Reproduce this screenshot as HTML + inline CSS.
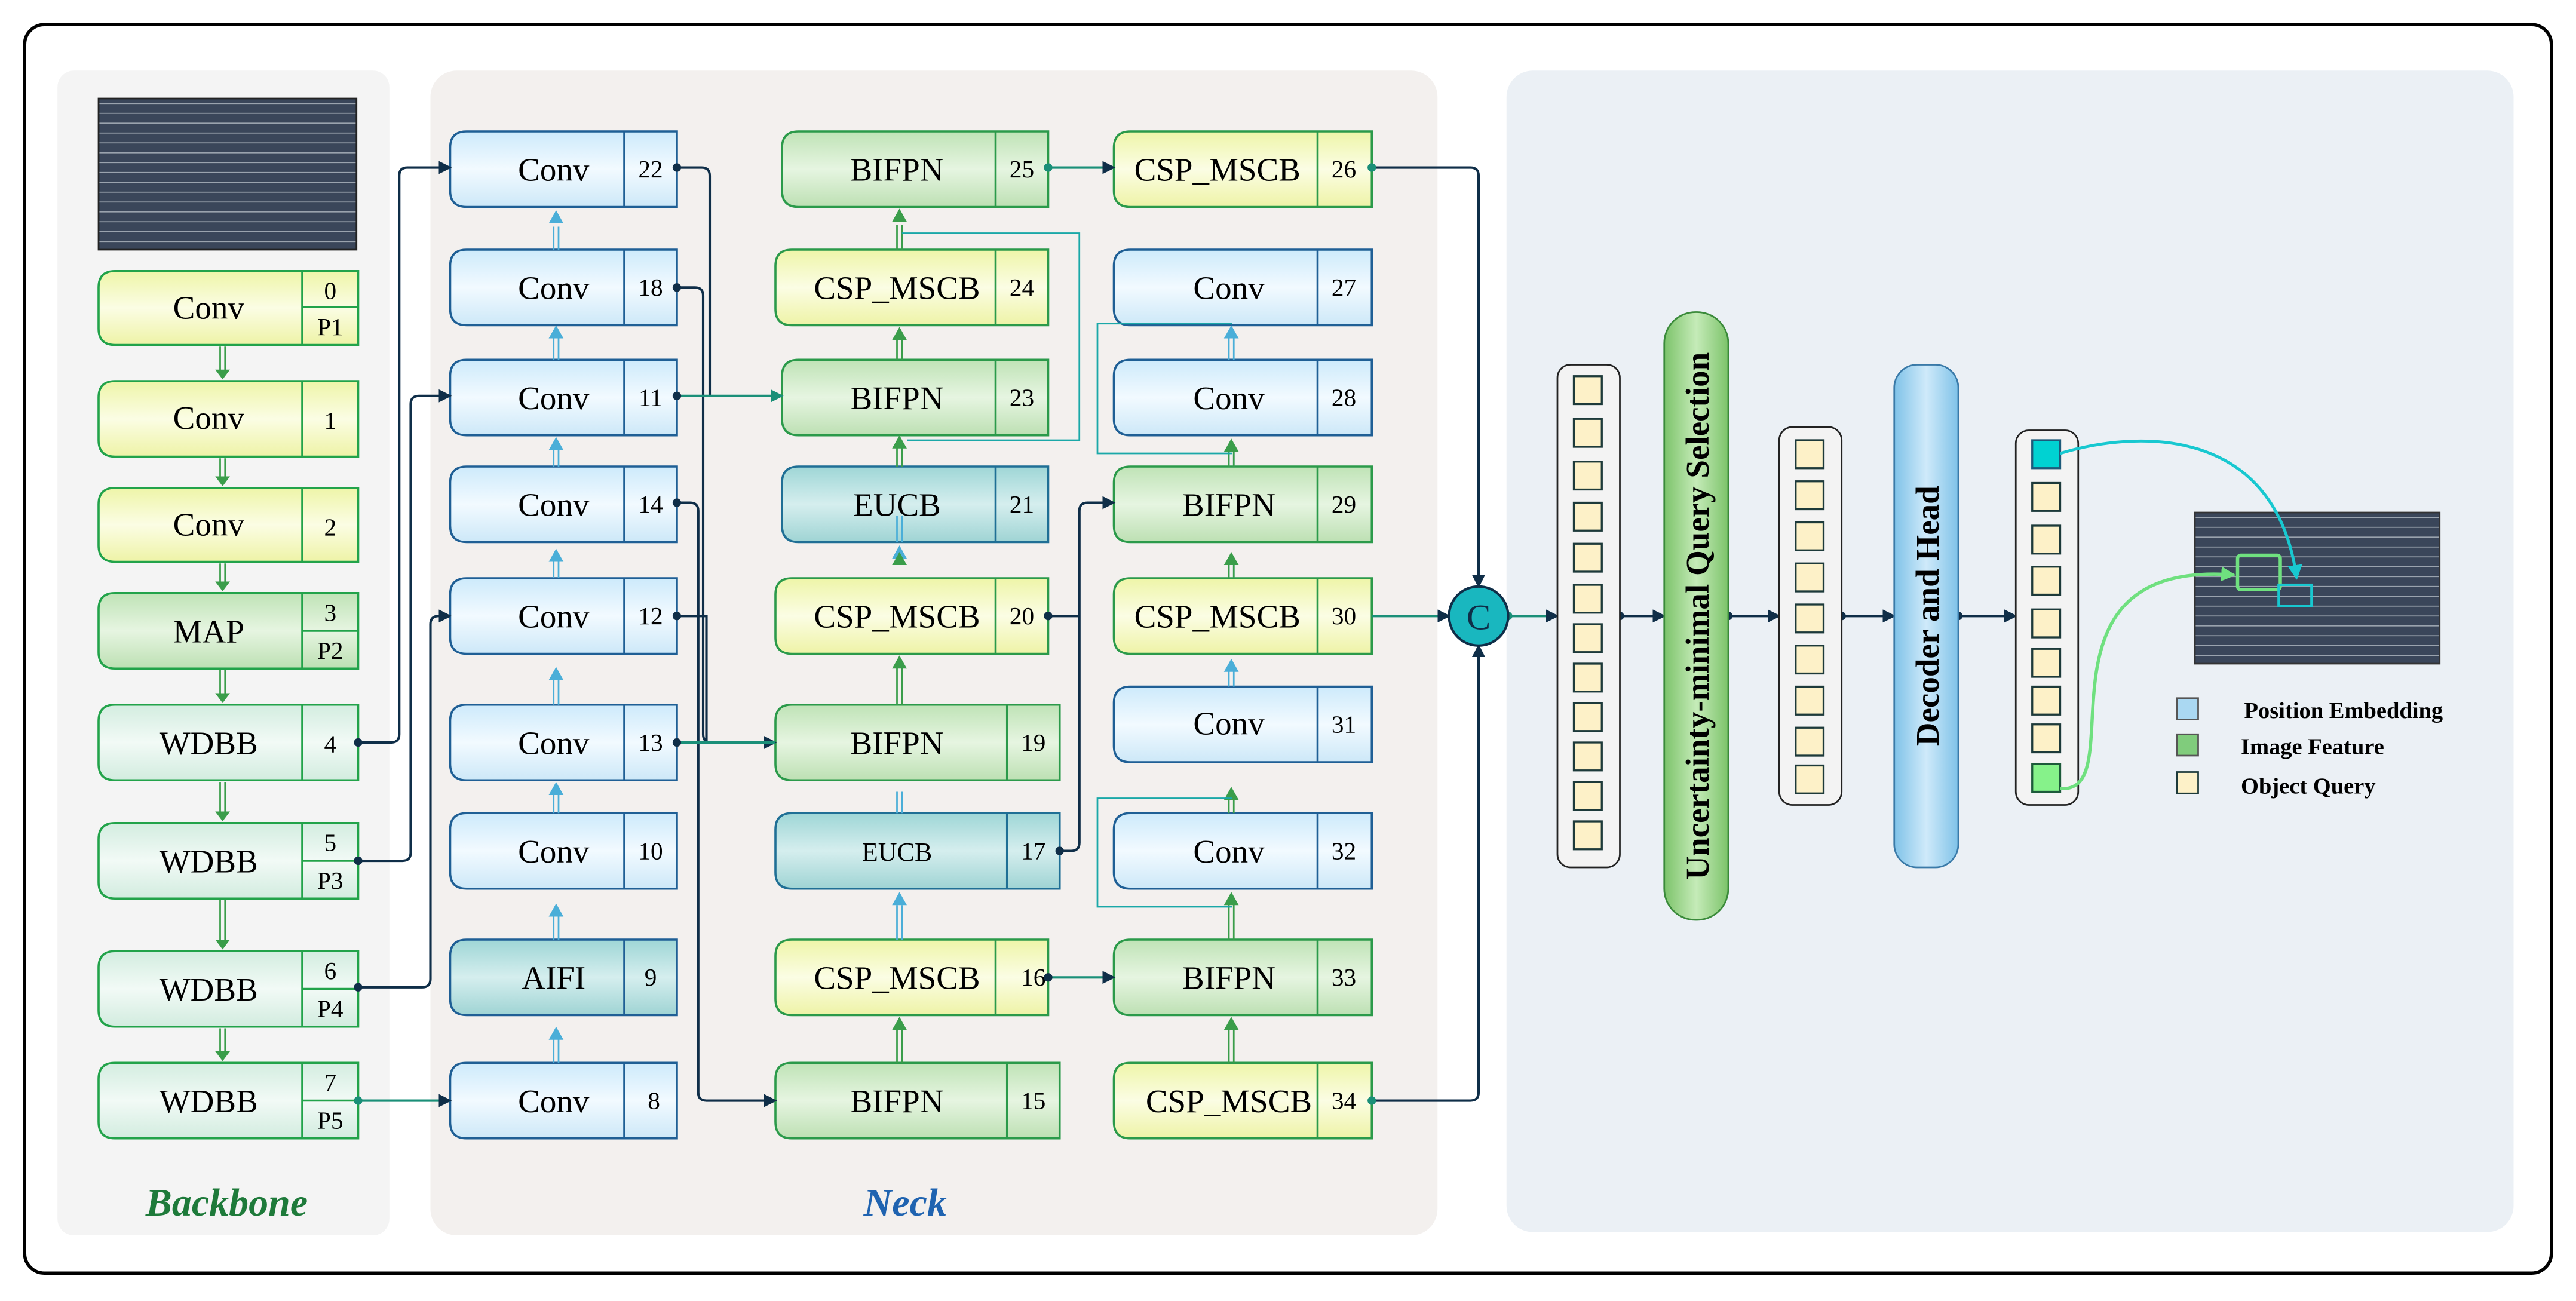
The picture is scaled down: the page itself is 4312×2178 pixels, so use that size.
<!DOCTYPE html>
<html><head><meta charset="utf-8"><style>
html,body{margin:0;padding:0;background:#fff}
svg{display:block}
svg, svg text{font-family:"Liberation Serif","Times New Roman",serif !important}
</style></head><body>
<svg width="4312" height="2178" viewBox="0 0 1568 792" xmlns="http://www.w3.org/2000/svg" font-family="Liberation Serif, serif">
<defs>
<linearGradient id="gy" x1="0" y1="0" x2="0" y2="1"><stop offset="0" stop-color="#eef5a8"/><stop offset=".5" stop-color="#fbfde4"/><stop offset="1" stop-color="#eef3a6"/></linearGradient>
<linearGradient id="gb" x1="0" y1="0" x2="0" y2="1"><stop offset="0" stop-color="#cdeafb"/><stop offset=".5" stop-color="#f2faff"/><stop offset="1" stop-color="#cde8f8"/></linearGradient>
<linearGradient id="gg" x1="0" y1="0" x2="0" y2="1"><stop offset="0" stop-color="#bfe3b6"/><stop offset=".5" stop-color="#e6f5e1"/><stop offset="1" stop-color="#bde0b3"/></linearGradient>
<linearGradient id="gt" x1="0" y1="0" x2="0" y2="1"><stop offset="0" stop-color="#9ed6d6"/><stop offset=".5" stop-color="#d5eeee"/><stop offset="1" stop-color="#9fd4d4"/></linearGradient>
<linearGradient id="gl" x1="0" y1="0" x2="0" y2="1"><stop offset="0" stop-color="#d3ede0"/><stop offset=".5" stop-color="#f2faf6"/><stop offset="1" stop-color="#d2ecdf"/></linearGradient>
<linearGradient id="pg" x1="0" y1="0" x2="1" y2="0"><stop offset="0" stop-color="#7cc36a"/><stop offset=".5" stop-color="#c5ebb8"/><stop offset="1" stop-color="#7cc36a"/></linearGradient>
<linearGradient id="pb" x1="0" y1="0" x2="1" y2="0"><stop offset="0" stop-color="#7fc2e8"/><stop offset=".5" stop-color="#cfeafa"/><stop offset="1" stop-color="#7fc2e8"/></linearGradient>
<pattern id="img" width="10" height="6" patternUnits="userSpaceOnUse"><rect width="10" height="6" fill="#3a465a"/><line x1="0" y1="3" x2="10" y2="3" stroke="#9aa3ae" stroke-width=".6"/></pattern>
<marker id="an" markerWidth="8" markerHeight="8" refX="7" refY="4" orient="auto" markerUnits="userSpaceOnUse"><path d="M0,0 L8,4 L0,8z" fill="#0f2e48"/></marker>
<marker id="ag" markerWidth="8" markerHeight="8" refX="7" refY="4" orient="auto" markerUnits="userSpaceOnUse"><path d="M0,0 L8,4 L0,8z" fill="#1a8f78"/></marker>
<marker id="ac" markerWidth="9" markerHeight="9" refX="8" refY="4.5" orient="auto" markerUnits="userSpaceOnUse"><path d="M0,0 L9,4.5 L0,9z" fill="#18c8d0"/></marker>
<marker id="al" markerWidth="9" markerHeight="9" refX="8" refY="4.5" orient="auto" markerUnits="userSpaceOnUse"><path d="M0,0 L9,4.5 L0,9z" fill="#6fe07f"/></marker>
<marker id="dn" markerWidth="6" markerHeight="6" refX="3" refY="3" markerUnits="userSpaceOnUse"><circle cx="3" cy="3" r="2.6" fill="#0f2e48"/></marker>
<marker id="dg" markerWidth="6" markerHeight="6" refX="3" refY="3" markerUnits="userSpaceOnUse"><circle cx="3" cy="3" r="2.6" fill="#1a8f78"/></marker>
</defs>
<rect width="1568" height="792" fill="#fff"/>
<rect x="15" y="15" width="1538" height="760" rx="12" fill="#fff" stroke="#000" stroke-width="2"/>
<rect x="35" y="43" width="202" height="709" rx="10" fill="#f4f4f4"/>
<rect x="262" y="43" width="613" height="709" rx="16" fill="#f3f0ee"/>
<rect x="917" y="43" width="613" height="707" rx="16" fill="#ebf0f5"/>
<rect x="60" y="60" width="157" height="92" fill="url(#img)" stroke="#222"/>
<text x="138" y="740" font-size="24" font-weight="bold" font-style="italic" fill="#1e7a3a" text-anchor="middle">Backbone</text>
<text x="551" y="740" font-size="24" font-weight="bold" font-style="italic" fill="#1f63b0" text-anchor="middle">Neck</text>

<g font-size="20" text-anchor="middle" fill="#000">
<g stroke="#22a34a" stroke-width="1.3">
<path d="M70,165H218V210H70Q60,210 60,200V175Q60,165 70,165z" fill="url(#gy)"/><path d="M184,165V210M184,187H218" fill="none"/>
<path d="M70,232H218V278H70Q60,278 60,268V242Q60,232 70,232z" fill="url(#gy)"/><path d="M184,232V278" fill="none"/>
<path d="M70,297H218V342H70Q60,342 60,332V307Q60,297 70,297z" fill="url(#gy)"/><path d="M184,297V342" fill="none"/>
<path d="M70,361H218V407H70Q60,407 60,397V371Q60,361 70,361z" fill="url(#gg)"/><path d="M184,361V407M184,384H218" fill="none"/>
<path d="M70,429H218V475H70Q60,475 60,465V439Q60,429 70,429z" fill="url(#gl)"/><path d="M184,429V475" fill="none"/>
<path d="M70,501H218V547H70Q60,547 60,537V511Q60,501 70,501z" fill="url(#gl)"/><path d="M184,501V547M184,524H218" fill="none"/>
<path d="M70,579H218V625H70Q60,625 60,615V589Q60,579 70,579z" fill="url(#gl)"/><path d="M184,579V625M184,602H218" fill="none"/>
<path d="M70,647H218V693H70Q60,693 60,683V657Q60,647 70,647z" fill="url(#gl)"/><path d="M184,647V693M184,670H218" fill="none"/>
</g>
<text x="127" y="194">Conv</text><text x="127" y="261">Conv</text><text x="127" y="326">Conv</text><text x="127" y="391">MAP</text>
<text x="127" y="459">WDBB</text><text x="127" y="531">WDBB</text><text x="127" y="609">WDBB</text><text x="127" y="677">WDBB</text>
<g font-size="15"><text x="201" y="182">0</text><text x="201" y="204">P1</text><text x="201" y="261">1</text><text x="201" y="326">2</text>
<text x="201" y="378">3</text><text x="201" y="401">P2</text><text x="201" y="458">4</text><text x="201" y="518">5</text><text x="201" y="541">P3</text>
<text x="201" y="596">6</text><text x="201" y="619">P4</text><text x="201" y="664">7</text><text x="201" y="687">P5</text></g>
</g>

<g font-size="20" text-anchor="middle">
<g stroke="#1f5f95" stroke-width="1.3">
<path d="M284,80H412V126H284Q274,126 274,116V90Q274,80 284,80z" fill="url(#gb)"/><path d="M380,80V126"/>
<path d="M284,152H412V198H284Q274,198 274,188V162Q274,152 284,152z" fill="url(#gb)"/><path d="M380,152V198"/>
<path d="M284,219H412V265H284Q274,265 274,255V229Q274,219 284,219z" fill="url(#gb)"/><path d="M380,219V265"/>
<path d="M284,284H412V330H284Q274,330 274,320V294Q274,284 284,284z" fill="url(#gb)"/><path d="M380,284V330"/>
<path d="M284,352H412V398H284Q274,398 274,388V362Q274,352 284,352z" fill="url(#gb)"/><path d="M380,352V398"/>
<path d="M284,429H412V475H284Q274,475 274,465V439Q274,429 284,429z" fill="url(#gb)"/><path d="M380,429V475"/>
<path d="M284,495H412V541H284Q274,541 274,531V505Q274,495 284,495z" fill="url(#gb)"/><path d="M380,495V541"/>
<path d="M284,572H412V618H284Q274,618 274,608V582Q274,572 284,572z" fill="url(#gt)"/><path d="M380,572V618"/>
<path d="M284,647H412V693H284Q274,693 274,683V657Q274,647 284,647z" fill="url(#gb)"/><path d="M380,647V693"/>
<path d="M688,80H835V126H688Q678,126 678,116V90Q678,80 688,80z" fill="url(#gy)" stroke="#2b9a4a"/><path d="M802,80V126" stroke="#2b9a4a"/>
<path d="M688,152H835V198H688Q678,198 678,188V162Q678,152 688,152z" fill="url(#gb)"/><path d="M802,152V198"/>
<path d="M688,219H835V265H688Q678,265 678,255V229Q678,219 688,219z" fill="url(#gb)"/><path d="M802,219V265"/>
<path d="M688,284H835V330H688Q678,330 678,320V294Q678,284 688,284z" fill="url(#gg)" stroke="#2b9a4a"/><path d="M802,284V330" stroke="#2b9a4a"/>
<path d="M688,352H835V398H688Q678,398 678,388V362Q678,352 688,352z" fill="url(#gy)" stroke="#2b9a4a"/><path d="M802,352V398" stroke="#2b9a4a"/>
<path d="M688,418H835V464H688Q678,464 678,454V428Q678,418 688,418z" fill="url(#gb)"/><path d="M802,418V464"/>
<path d="M688,495H835V541H688Q678,541 678,531V505Q678,495 688,495z" fill="url(#gb)"/><path d="M802,495V541"/>
<path d="M688,572H835V618H688Q678,618 678,608V582Q678,572 688,572z" fill="url(#gg)" stroke="#2b9a4a"/><path d="M802,572V618" stroke="#2b9a4a"/>
<path d="M688,647H835V693H688Q678,693 678,683V657Q678,647 688,647z" fill="url(#gy)" stroke="#2b9a4a"/><path d="M802,647V693" stroke="#2b9a4a"/>
</g>
<g stroke="#2b9a4a" stroke-width="1.3">
<path d="M486,80H638V126H486Q476,126 476,116V90Q476,80 486,80z" fill="url(#gg)"/><path d="M606,80V126"/>
<path d="M482,152H638V198H482Q472,198 472,188V162Q472,152 482,152z" fill="url(#gy)"/><path d="M606,152V198"/>
<path d="M486,219H638V265H486Q476,265 476,255V229Q476,219 486,219z" fill="url(#gg)"/><path d="M606,219V265"/>
<path d="M486,284H638V330H486Q476,330 476,320V294Q476,284 486,284z" fill="url(#gt)" stroke="#1f6f95"/><path d="M606,284V330" stroke="#1f6f95"/>
<path d="M482,352H638V398H482Q472,398 472,388V362Q472,352 482,352z" fill="url(#gy)"/><path d="M606,352V398"/>
<path d="M482,429H645V475H482Q472,475 472,465V439Q472,429 482,429z" fill="url(#gg)"/><path d="M613,429V475"/>
<path d="M482,495H645V541H482Q472,541 472,531V505Q472,495 482,495z" fill="url(#gt)" stroke="#1f6f95"/><path d="M613,495V541" stroke="#1f6f95"/>
<path d="M482,572H638V618H482Q472,618 472,608V582Q472,572 482,572z" fill="url(#gy)"/><path d="M606,572V618"/>
<path d="M482,647H645V693H482Q472,693 472,683V657Q472,647 482,647z" fill="url(#gg)"/><path d="M613,647V693"/>
</g>
<g fill="#000">
<text x="337" y="110">Conv</text><text x="337" y="182">Conv</text><text x="337" y="249">Conv</text><text x="337" y="314">Conv</text><text x="337" y="382">Conv</text><text x="337" y="459">Conv</text><text x="337" y="525">Conv</text><text x="337" y="602">AIFI</text><text x="337" y="677">Conv</text>
<text x="546" y="110">BIFPN</text><text x="546" y="182">CSP_MSCB</text><text x="546" y="249">BIFPN</text><text x="546" y="314">EUCB</text><text x="546" y="382">CSP_MSCB</text><text x="546" y="459">BIFPN</text><text x="546" y="524" font-size="16">EUCB</text><text x="546" y="602">CSP_MSCB</text><text x="546" y="677">BIFPN</text>
<text x="741" y="110">CSP_MSCB</text><text x="748" y="182">Conv</text><text x="748" y="249">Conv</text><text x="748" y="314">BIFPN</text><text x="741" y="382">CSP_MSCB</text><text x="748" y="447">Conv</text><text x="748" y="525">Conv</text><text x="748" y="602">BIFPN</text><text x="748" y="677">CSP_MSCB</text>
<g font-size="15"><text x="396" y="108">22</text><text x="396" y="180">18</text><text x="396" y="247">11</text><text x="396" y="312">14</text><text x="396" y="380">12</text><text x="396" y="457">13</text><text x="396" y="523">10</text><text x="396" y="600">9</text><text x="398" y="675">8</text>
<text x="622" y="108">25</text><text x="622" y="180">24</text><text x="622" y="247">23</text><text x="622" y="312">21</text><text x="622" y="380">20</text><text x="629" y="457">19</text><text x="629" y="523">17</text><text x="629" y="600">16</text><text x="629" y="675">15</text>
<text x="818" y="108">26</text><text x="818" y="180">27</text><text x="818" y="247">28</text><text x="818" y="312">29</text><text x="818" y="380">30</text><text x="818" y="446">31</text><text x="818" y="523">32</text><text x="818" y="600">33</text><text x="818" y="675">34</text></g>
</g></g>

<g stroke-width="1" fill="none">
<g stroke="#3a9d4a"><path d="M134,211V226M137,211V226M134,279V291M137,279V291M134,343V355M137,343V355M134,408V423M137,408V423M134,476V495M137,476V495M134,548V573M137,548V573M134,626V641M137,626V641"/></g>
<g fill="#3a9d4a"><path d="M131,225h9l-4.5,6z M131,290h9l-4.5,6z M131,354h9l-4.5,6z M131,422h9l-4.5,6z M131,494h9l-4.5,6z M131,572h9l-4.5,6z M131,640h9l-4.5,6z"/></g>
<g stroke="#4aaed8"><path d="M337,138V152M340,138V152M337,206V219M340,206V219M337,272V284M340,272V284M337,340V352M340,340V352M337,413V429M340,413V429M337,482V495M340,482V495M337,556V572M340,556V572M337,630V647M340,630V647 M546,314V330M549,314V330 M546,482V495M549,482V495 M546,551V572M549,551V572"/>
<path d="M748,206V219M751,206V219M748,272V284M751,272V284M748,340V352M751,340V352M748,408V418M751,408V418"/></g>
<g fill="#4aaed8"><path d="M334,136h9l-4.5,-8z M334,206h9l-4.5,-8z M334,274h9l-4.5,-8z M334,342h9l-4.5,-8z M334,414h9l-4.5,-8z M334,484h9l-4.5,-8z M334,558h9l-4.5,-8z M334,633h9l-4.5,-8z M543,340h9l-4.5,-8z M543,551h9l-4.5,-8z M745,206h9l-4.5,-8z M745,409h9l-4.5,-8z"/></g>
<g stroke="#3a9d4a"><path d="M546,137V152M549,137V152M546,206V219M549,206V219M546,272V284M549,272V284M546,406V429M549,406V429M546,626V647M549,626V647M748,272V284M751,272V284M748,342V352M751,342V352M748,550V572M751,550V572M748,625V647M751,625V647M748,484V495M751,484V495"/></g>
<g fill="#3a9d4a"><path d="M543,135h9l-4.5,-8z M543,207h9l-4.5,-8z M543,273h9l-4.5,-8z M543,407h9l-4.5,-8z M543,627h9l-4.5,-8z M745,551h9l-4.5,-8z M745,627h9l-4.5,-8z M745,344h9l-4.5,-8z M543,344h9l-4.5,-8z M745,275h9l-4.5,-8z M745,487h9l-4.5,-8z"/></g>
<g stroke="#1aa8a8"><path d="M549,142H657V268H552 M750,197H668V276H750 M750,486H668V552H750"/></g>
</g>

<g fill="none" stroke-width="1.5">
<g stroke="#0f2e48">
<path d="M218,452H238Q243,452 243,447V107Q243,102 248,102H274" marker-start="url(#dn)" marker-end="url(#an)"/>
<path d="M218,524H245Q250,524 250,519V246Q250,241 255,241H274" marker-start="url(#dn)" marker-end="url(#an)"/>
<path d="M218,601H257Q262,601 262,596V380Q262,375 267,375H274" marker-start="url(#dn)" marker-end="url(#an)"/>
<path d="M412,102H427Q432,102 432,107V241" marker-start="url(#dn)"/>
<path d="M412,175H423Q428,175 428,180V447Q428,452 433,452H472" marker-start="url(#dn)" marker-end="url(#an)"/>
<path d="M412,306H420Q425,306 425,311V665Q425,670 430,670H472" marker-start="url(#dn)" marker-end="url(#an)"/>
<path d="M412,375H430V452" marker-start="url(#dn)"/>
<path d="M645,518H652Q657,518 657,513V311Q657,306 662,306H678" marker-start="url(#dn)" marker-end="url(#an)"/>
<path d="M638,375H657" marker-start="url(#dn)"/>
<path d="M835,102H895Q900,102 900,107V357" marker-start="url(#dg)" marker-end="url(#an)"/>
<path d="M835,670H895Q900,670 900,665V393" marker-start="url(#dg)" marker-end="url(#an)"/>
</g>
<g stroke="#1a8f78">
<path d="M218,670H274" marker-start="url(#dg)" marker-end="url(#an)"/>
<path d="M412,241H476" marker-start="url(#dn)" marker-end="url(#ag)"/>
<path d="M412,452H472" marker-start="url(#dn)"/>
<path d="M638,102H678" marker-start="url(#dg)" marker-end="url(#an)"/>
<path d="M638,595H678" marker-start="url(#dn)" marker-end="url(#an)"/>
<path d="M835,375H882" marker-end="url(#an)"/>
<path d="M918,375H948" marker-start="url(#dg)" marker-end="url(#an)"/>
</g>
<g stroke="#0f2e48">
<path d="M986,375H1013" marker-start="url(#dn)" marker-end="url(#an)"/>
<path d="M1052,375H1083" marker-start="url(#dn)" marker-end="url(#an)"/>
<path d="M1121,375H1153" marker-start="url(#dn)" marker-end="url(#an)"/>
<path d="M1192,375H1227" marker-start="url(#dn)" marker-end="url(#an)"/>
</g>
</g>
<circle cx="900" cy="375" r="18" fill="#19b7bf" stroke="#0f2e48" stroke-width="1.5"/>
<text x="900" y="383" font-size="22" text-anchor="middle" fill="#0f2e48">C</text>

<rect x="948" y="222" width="38" height="306" rx="8" fill="#f3f3f3" stroke="#222"/>
<g fill="#fdf1c8" stroke="#1d3a3a" stroke-width="1.2">
<rect x="958" y="229" width="17" height="17"/><rect x="958" y="255" width="17" height="17"/><rect x="958" y="281" width="17" height="17"/><rect x="958" y="306" width="17" height="17"/><rect x="958" y="331" width="17" height="17"/><rect x="958" y="356" width="17" height="17"/><rect x="958" y="380" width="17" height="17"/><rect x="958" y="404" width="17" height="17"/><rect x="958" y="428" width="17" height="17"/><rect x="958" y="452" width="17" height="17"/><rect x="958" y="476" width="17" height="17"/><rect x="958" y="500" width="17" height="17"/>
</g>
<rect x="1013" y="190" width="39" height="370" rx="19" fill="url(#pg)" stroke="#3a8a3a"/>
<text transform="translate(1040,375) rotate(-90)" font-size="20" font-weight="bold" text-anchor="middle">Uncertainty-minimal Query Selection</text>
<rect x="1083" y="260" width="38" height="230" rx="8" fill="#f3f3f3" stroke="#222"/>
<g fill="#fdf1c8" stroke="#1d3a3a" stroke-width="1.2">
<rect x="1093" y="268" width="17" height="17"/><rect x="1093" y="293" width="17" height="17"/><rect x="1093" y="318" width="17" height="17"/><rect x="1093" y="343" width="17" height="17"/><rect x="1093" y="368" width="17" height="17"/><rect x="1093" y="393" width="17" height="17"/><rect x="1093" y="418" width="17" height="17"/><rect x="1093" y="443" width="17" height="17"/><rect x="1093" y="466" width="17" height="17"/>
</g>
<rect x="1153" y="222" width="39" height="306" rx="14" fill="url(#pb)" stroke="#3a7aa8"/>
<text transform="translate(1180,375) rotate(-90)" font-size="20" font-weight="bold" text-anchor="middle">Decoder and Head</text>
<rect x="1227" y="262" width="38" height="228" rx="8" fill="#f3f3f3" stroke="#222"/>
<rect x="1237" y="268" width="17" height="17" fill="#00d2d2" stroke="#1d5a7a" stroke-width="1.2"/>
<g fill="#fdf1c8" stroke="#1d3a3a" stroke-width="1.2">
<rect x="1237" y="294" width="17" height="17"/><rect x="1237" y="320" width="17" height="17"/><rect x="1237" y="345" width="17" height="17"/><rect x="1237" y="371" width="17" height="17"/><rect x="1237" y="395" width="17" height="17"/><rect x="1237" y="418" width="17" height="17"/><rect x="1237" y="441" width="17" height="17"/>
</g>
<rect x="1237" y="465" width="17" height="17" fill="#86f28a" stroke="#1d5a3a" stroke-width="1.2"/>
<rect x="1336" y="312" width="149" height="92" fill="url(#img)" stroke="#333"/>
<rect x="1362" y="338" width="26" height="21" fill="none" stroke="#6fe07f" stroke-width="2" rx="2"/>
<rect x="1387" y="356" width="20" height="13" fill="none" stroke="#18c8d0" stroke-width="1.5"/>
<path d="M1254,276C1300,262 1385,258 1398,352" fill="none" stroke="#18c8d0" stroke-width="1.8" marker-end="url(#ac)"/>
<path d="M1254,480C1300,484 1230,340 1360,350" fill="none" stroke="#6fe07f" stroke-width="2" marker-end="url(#al)"/>
<rect x="1325" y="425" width="13" height="13" fill="#aad8f2" stroke="#555"/>
<rect x="1325" y="447" width="13" height="13" fill="#80cc7c" stroke="#555"/>
<rect x="1325" y="470" width="13" height="13" fill="#fdf1c8" stroke="#1d3a3a"/>
<g font-size="14" font-weight="bold"><text x="1366" y="437">Position Embedding</text><text x="1364" y="459">Image Feature</text><text x="1364" y="483">Object Query</text></g>
</svg>
</body></html>
